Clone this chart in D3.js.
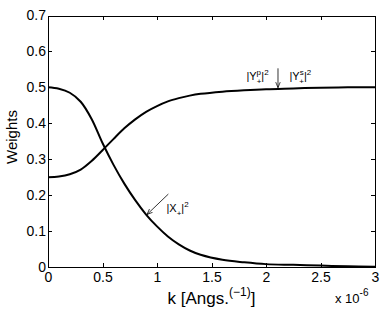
<!DOCTYPE html>
<html>
<head>
<meta charset="utf-8">
<script src="https://cdn.jsdelivr.net/npm/d3@7"></script>
<style>
body{margin:0;background:#fff;}
text{font-family:"Liberation Sans",Arial,Helvetica,sans-serif;fill:#000;}
</style>
</head>
<body>
<script>
// k in units of 1e-6 Angs^-1
var kVals=[0,0.1,0.2,0.3,0.4,0.5,0.6,0.7,0.8,0.9,1.0,1.1,1.2,1.3,1.4,1.6,1.8,2.0,2.25,2.5,2.75,3.0];
var xWeights=[0.5,0.496,0.485,0.46,0.412,0.345,0.285,0.232,0.186,0.146,0.113,0.085,0.063,0.046,0.034,0.02,0.013,0.008,0.006,0.004,0.002,0.001];
var yWeights=[0.25,0.252,0.258,0.271,0.295,0.325,0.356,0.386,0.411,0.432,0.448,0.461,0.47,0.477,0.482,0.488,0.492,0.495,0.497,0.499,0.5,0.5];
var xTicks=[0,0.5,1,1.5,2,2.5,3];
var yTicks=[0,0.1,0.2,0.3,0.4,0.5,0.6,0.7];

var width=382;
var height=309;
var plot={left:48,right:375,top:15.5,bottom:267};

var svg=d3.select("body")
    .append("svg")
    .attr("width",width)
    .attr("height",height);

var x=d3.scaleLinear().domain([0,3]).range([plot.left,plot.right]);
var y=d3.scaleLinear().domain([0,0.7]).range([plot.bottom,plot.top]);

function styleAxis(g){
    g.selectAll("path,line").attr("stroke","#000").attr("stroke-width",1).attr("shape-rendering","crispEdges");
    g.selectAll("text").attr("font-size","14px").attr("font-family",null);
}

svg.append("g")
    .attr("transform","translate(0,"+plot.bottom+")")
    .call(d3.axisBottom(x).tickValues(xTicks).tickFormat(d3.format("")).tickSizeInner(-4).tickSizeOuter(0).tickPadding(5))
    .call(styleAxis);

svg.append("g")
    .attr("transform","translate(0,"+plot.top+")")
    .call(d3.axisTop(x).tickValues(xTicks).tickFormat("").tickSizeInner(-4).tickSizeOuter(0))
    .call(styleAxis);

svg.append("g")
    .attr("transform","translate("+plot.left+",0)")
    .call(d3.axisLeft(y).tickValues(yTicks).tickFormat(d3.format("")).tickSizeInner(-4).tickSizeOuter(0).tickPadding(2))
    .call(styleAxis);

svg.append("g")
    .attr("transform","translate("+plot.right+",0)")
    .call(d3.axisRight(y).tickValues(yTicks).tickFormat("").tickSizeInner(-4).tickSizeOuter(0))
    .call(styleAxis);

// curves
var line=d3.line()
    .x(function(d){return x(d[0]);})
    .y(function(d){return y(d[1]);})
    .curve(d3.curveCatmullRom.alpha(0.5));

[xWeights,yWeights].forEach(function(series){
    svg.append("path")
        .datum(kVals.map(function(k,i){return [k,series[i]];}))
        .attr("fill","none")
        .attr("stroke","#000")
        .attr("stroke-width",2)
        .attr("d",line);
});

// axis labels
var xl=svg.append("text")
    .attr("x",(plot.left+plot.right)/2)
    .attr("y",304)
    .attr("text-anchor","middle")
    .attr("font-size","17px");
xl.append("tspan").text("k [Angs.");
xl.append("tspan").attr("dy",-8).attr("font-size","12px").text("(\u22121)");
xl.append("tspan").attr("dy",8).text("]");

svg.append("text")
    .attr("transform","translate(17,137) rotate(-90)")
    .attr("text-anchor","middle")
    .attr("font-size","15px")
    .text("Weights");

var ex=svg.append("text")
    .attr("x",335)
    .attr("y",303)
    .attr("font-size","13px");
ex.append("tspan").text("x 10");
ex.append("tspan").attr("dy",-7).attr("font-size","10px").text("-6");

// annotations
svg.append("defs").append("marker")
    .attr("id","head")
    .attr("viewBox","0 0 10 10")
    .attr("refX",10).attr("refY",5)
    .attr("markerWidth",7).attr("markerHeight",7)
    .attr("orient","auto")
    .append("path")
    .attr("d","M0,1L10,5L0,9")
    .attr("fill","none")
    .attr("stroke","#000")
    .attr("stroke-width",1.3);

function arrow(k0,v0,k1,v1){
    svg.append("line")
        .attr("x1",x(k0)).attr("y1",y(v0))
        .attr("x2",x(k1)).attr("y2",y(v1))
        .attr("stroke","#000")
        .attr("stroke-width",0.8)
        .attr("marker-end","url(#head)");
}
arrow(1.104,0.203,0.908,0.146);
arrow(2.11,0.553,2.11,0.499);

function label(k,v,base,sup){
    var t=svg.append("text")
        .attr("x",x(k)).attr("y",y(v))
        .attr("font-size","11px");
    t.append("tspan").text("|"+base);
    if(sup){
        t.append("tspan").attr("dy",-5).attr("font-size","8px").text(sup);
        t.append("tspan").attr("dy",9).attr("dx",-4.4).attr("font-size","8px").text("+");
    }else{
        t.append("tspan").attr("dy",4).attr("font-size","8px").text("+");
    }
    t.append("tspan").attr("dy",-4).text("|");
    t.append("tspan").attr("dy",-5).attr("font-size","8px").text("2");
}
label(1.087,0.153,"X",null);
label(1.82,0.52,"Y","p");
label(2.215,0.52,"Y","s");
</script>
</body>
</html>
